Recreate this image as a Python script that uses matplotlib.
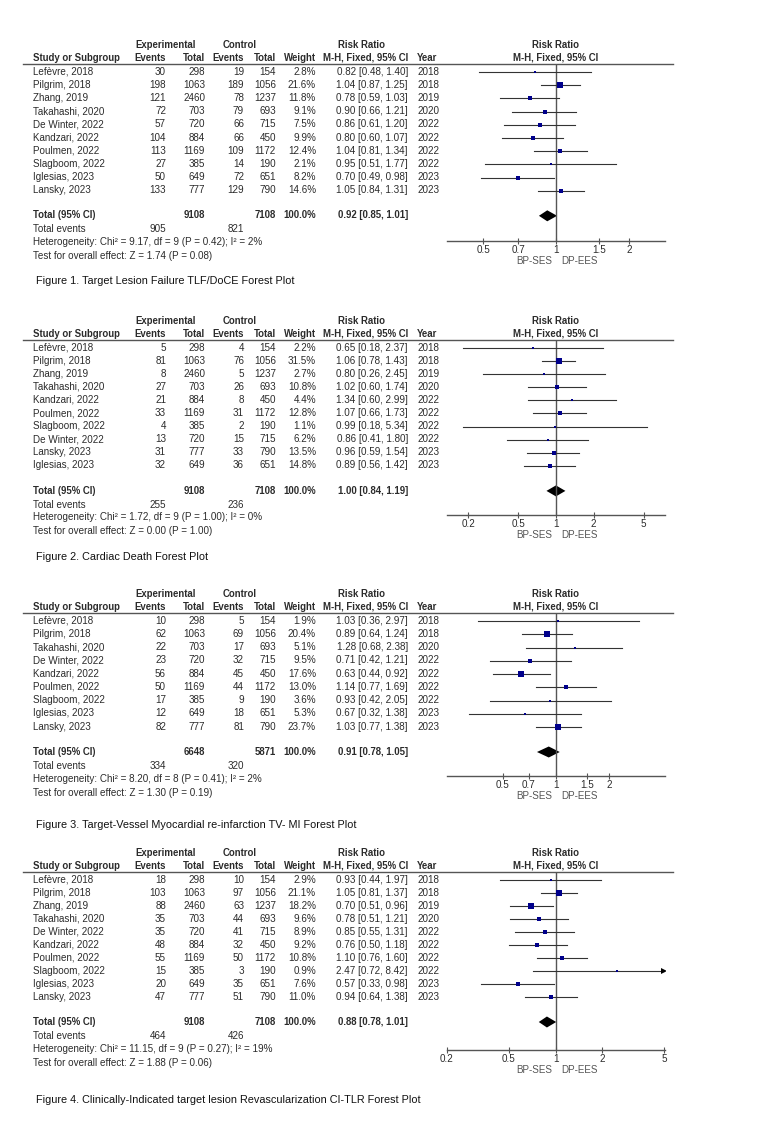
import matplotlib
matplotlib.use("Agg")
import matplotlib.pyplot as plt
import numpy as np

plt.rcParams['font.family'] = ['Liberation Sans', 'DejaVu Sans']

# ---- Figure 1: TLF/DoCE
studies1 = ["Lefèvre, 2018", "Pilgrim, 2018", "Zhang, 2019", "Takahashi, 2020", "De Winter, 2022",
            "Kandzari, 2022", "Poulmen, 2022", "Slagboom, 2022", "Iglesias, 2023", "Lansky, 2023"]
exp_ev1 = [30, 198, 121, 72, 57, 104, 113, 27, 50, 133]
exp_tot1 = [298, 1063, 2460, 703, 720, 884, 1169, 385, 649, 777]
ctl_ev1 = [19, 189, 78, 79, 66, 66, 109, 14, 72, 129]
ctl_tot1 = [154, 1056, 1237, 693, 715, 450, 1172, 190, 651, 790]
weight1 = [2.8, 21.6, 11.8, 9.1, 7.5, 9.9, 12.4, 2.1, 8.2, 14.6]
rr1 = [0.82, 1.04, 0.78, 0.90, 0.86, 0.80, 1.04, 0.95, 0.70, 1.05]
lo1 = [0.48, 0.87, 0.59, 0.66, 0.61, 0.60, 0.81, 0.51, 0.49, 0.84]
hi1 = [1.40, 1.25, 1.03, 1.21, 1.20, 1.07, 1.34, 1.77, 0.98, 1.31]
year1 = [2018, 2018, 2019, 2020, 2022, 2022, 2022, 2022, 2023, 2023]
total1 = [9108, 7108, 0.92, 0.85, 1.01, 905, 821]
het1 = "Heterogeneity: Chi² = 9.17, df = 9 (P = 0.42); I² = 2%"
test1 = "Test for overall effect: Z = 1.74 (P = 0.08)"
ticks1 = [0.5, 0.7, 1, 1.5, 2]
cap1 = "Figure 1. Target Lesion Failure TLF/DoCE Forest Plot"

# ---- Figure 2: Cardiac death
studies2 = ["Lefèvre, 2018", "Pilgrim, 2018", "Zhang, 2019", "Takahashi, 2020", "Kandzari, 2022",
            "Poulmen, 2022", "Slagboom, 2022", "De Winter, 2022", "Lansky, 2023", "Iglesias, 2023"]
exp_ev2 = [5, 81, 8, 27, 21, 33, 4, 13, 31, 32]
exp_tot2 = [298, 1063, 2460, 703, 884, 1169, 385, 720, 777, 649]
ctl_ev2 = [4, 76, 5, 26, 8, 31, 2, 15, 33, 36]
ctl_tot2 = [154, 1056, 1237, 693, 450, 1172, 190, 715, 790, 651]
weight2 = [2.2, 31.5, 2.7, 10.8, 4.4, 12.8, 1.1, 6.2, 13.5, 14.8]
rr2 = [0.65, 1.06, 0.80, 1.02, 1.34, 1.07, 0.99, 0.86, 0.96, 0.89]
lo2 = [0.18, 0.78, 0.26, 0.60, 0.60, 0.66, 0.18, 0.41, 0.59, 0.56]
hi2 = [2.37, 1.43, 2.45, 1.74, 2.99, 1.73, 5.34, 1.80, 1.54, 1.42]
year2 = [2018, 2018, 2019, 2020, 2022, 2022, 2022, 2022, 2023, 2023]
total2 = [9108, 7108, 1.00, 0.84, 1.19, 255, 236]
het2 = "Heterogeneity: Chi² = 1.72, df = 9 (P = 1.00); I² = 0%"
test2 = "Test for overall effect: Z = 0.00 (P = 1.00)"
ticks2 = [0.2, 0.5, 1, 2, 5]
cap2 = "Figure 2. Cardiac Death Forest Plot"

# ---- Figure 3: TV-MI
studies3 = ["Lefèvre, 2018", "Pilgrim, 2018", "Takahashi, 2020", "De Winter, 2022", "Kandzari, 2022",
            "Poulmen, 2022", "Slagboom, 2022", "Iglesias, 2023", "Lansky, 2023"]
exp_ev3 = [10, 62, 22, 23, 56, 50, 17, 12, 82]
exp_tot3 = [298, 1063, 703, 720, 884, 1169, 385, 649, 777]
ctl_ev3 = [5, 69, 17, 32, 45, 44, 9, 18, 81]
ctl_tot3 = [154, 1056, 693, 715, 450, 1172, 190, 651, 790]
weight3 = [1.9, 20.4, 5.1, 9.5, 17.6, 13.0, 3.6, 5.3, 23.7]
rr3 = [1.03, 0.89, 1.28, 0.71, 0.63, 1.14, 0.93, 0.67, 1.03]
lo3 = [0.36, 0.64, 0.68, 0.42, 0.44, 0.77, 0.42, 0.32, 0.77]
hi3 = [2.97, 1.24, 2.38, 1.21, 0.92, 1.69, 2.05, 1.38, 1.38]
year3 = [2018, 2018, 2020, 2022, 2022, 2022, 2022, 2023, 2023]
total3 = [6648, 5871, 0.91, 0.78, 1.05, 334, 320]
het3 = "Heterogeneity: Chi² = 8.20, df = 8 (P = 0.41); I² = 2%"
test3 = "Test for overall effect: Z = 1.30 (P = 0.19)"
ticks3 = [0.5, 0.7, 1, 1.5, 2]
cap3 = "Figure 3. Target-Vessel Myocardial re-infarction TV- MI Forest Plot"

# ---- Figure 4: CI-TLR
studies4 = ["Lefèvre, 2018", "Pilgrim, 2018", "Zhang, 2019", "Takahashi, 2020", "De Winter, 2022",
            "Kandzari, 2022", "Poulmen, 2022", "Slagboom, 2022", "Iglesias, 2023", "Lansky, 2023"]
exp_ev4 = [18, 103, 88, 35, 35, 48, 55, 15, 20, 47]
exp_tot4 = [298, 1063, 2460, 703, 720, 884, 1169, 385, 649, 777]
ctl_ev4 = [10, 97, 63, 44, 41, 32, 50, 3, 35, 51]
ctl_tot4 = [154, 1056, 1237, 693, 715, 450, 1172, 190, 651, 790]
weight4 = [2.9, 21.1, 18.2, 9.6, 8.9, 9.2, 10.8, 0.9, 7.6, 11.0]
rr4 = [0.93, 1.05, 0.70, 0.78, 0.85, 0.76, 1.10, 2.47, 0.57, 0.94]
lo4 = [0.44, 0.81, 0.51, 0.51, 0.55, 0.50, 0.76, 0.72, 0.33, 0.64]
hi4 = [1.97, 1.37, 0.96, 1.21, 1.31, 1.18, 1.60, 8.42, 0.98, 1.38]
year4 = [2018, 2018, 2019, 2020, 2022, 2022, 2022, 2022, 2023, 2023]
total4 = [9108, 7108, 0.88, 0.78, 1.01, 464, 426]
het4 = "Heterogeneity: Chi² = 11.15, df = 9 (P = 0.27); I² = 19%"
test4 = "Test for overall effect: Z = 1.88 (P = 0.06)"
ticks4 = [0.2, 0.5, 1, 2, 5]
cap4 = "Figure 4. Clinically-Indicated target lesion Revascularization CI-TLR Forest Plot"

# layout (pixels): header line y, row pitch, axis y, caption y, xlim of forest
panels = [
    dict(s=studies1, ee=exp_ev1, et=exp_tot1, ce=ctl_ev1, ct=ctl_tot1, w=weight1, rr=rr1, lo=lo1, hi=hi1,
         yr=year1, tot=total1, het=het1, test=test1, ticks=ticks1, cap=cap1,
         line=64, pitch=13.2, axis=241, cap_y=281, xlim=(0.355, 2.815)),
    dict(s=studies2, ee=exp_ev2, et=exp_tot2, ce=ctl_ev2, ct=ctl_tot2, w=weight2, rr=rr2, lo=lo2, hi=hi2,
         yr=year2, tot=total2, het=het2, test=test2, ticks=ticks2, cap=cap2,
         line=340, pitch=13.1, axis=515, cap_y=557, xlim=(0.135, 7.42)),
    dict(s=studies3, ee=exp_ev3, et=exp_tot3, ce=ctl_ev3, ct=ctl_tot3, w=weight3, rr=rr3, lo=lo3, hi=hi3,
         yr=year3, tot=total3, het=het3, test=test3, ticks=ticks3, cap=cap3,
         line=613, pitch=13.25, axis=776, cap_y=825, xlim=(0.2406, 4.16)),
    dict(s=studies4, ee=exp_ev4, et=exp_tot4, ce=ctl_ev4, ct=ctl_tot4, w=weight4, rr=rr4, lo=lo4, hi=hi4,
         yr=year4, tot=total4, het=het4, test=test4, ticks=ticks4, cap=cap4,
         line=872, pitch=13.0, axis=1050, cap_y=1100, xlim=(0.2, 5.07)),
]

W, H = 764, 1140
fig = plt.figure(figsize=(W / 100, H / 100), dpi=100)
bg = fig.add_axes([0, 0, 1, 1])
bg.set_xlim(0, W)
bg.set_ylim(H, 0)
bg.axis("off")

TXT = "#2b2b2b"
FS = 7.1
HFS = 6.9
# right edges of numeric columns
X_NAME, X_EE, X_ET, X_CE, X_CT, X_W, X_CI, X_YR = 33, 166, 205, 244, 276, 316, 408, 417
FX0, FX1 = 447, 665


def t(x, y, s, ha="left", bold=False, size=FS, color=TXT):
    # baseline placement so accented names line up with the others
    bg.text(x, y + 2.6, s, ha=ha, va="baseline", fontsize=size, color=color,
            fontweight="bold" if bold else "normal")


for p in panels:
    line = p["line"]
    n = len(p["s"])
    row_y = [line + 8 + p["pitch"] * i for i in range(n)]
    tot_y = row_y[-1] + 25

    # headers
    t(166, line - 19, "Experimental", ha="center", bold=True, size=HFS)
    t(240, line - 19, "Control", ha="center", bold=True, size=HFS)
    t(362, line - 19, "Risk Ratio", ha="center", bold=True, size=HFS)
    t(556, line - 19, "Risk Ratio", ha="center", bold=True, size=HFS)
    t(X_NAME, line - 6, "Study or Subgroup", bold=True, size=HFS)
    t(X_EE, line - 6, "Events", ha="right", bold=True, size=HFS)
    t(X_ET, line - 6, "Total", ha="right", bold=True, size=HFS)
    t(X_CE, line - 6, "Events", ha="right", bold=True, size=HFS)
    t(X_CT, line - 6, "Total", ha="right", bold=True, size=HFS)
    t(X_W, line - 6, "Weight", ha="right", bold=True, size=HFS)
    t(X_CI, line - 6, "M-H, Fixed, 95% CI", ha="right", bold=True, size=HFS)
    t(X_YR, line - 6, "Year", bold=True, size=HFS)
    t(556, line - 6, "M-H, Fixed, 95% CI", ha="center", bold=True, size=HFS)
    bg.plot([23, 673], [line, line], color="#555555", lw=1.0)

    for i in range(n):
        y = row_y[i]
        t(X_NAME, y, p["s"][i])
        t(X_EE, y, str(p["ee"][i]), ha="right")
        t(X_ET, y, str(p["et"][i]), ha="right")
        t(X_CE, y, str(p["ce"][i]), ha="right")
        t(X_CT, y, str(p["ct"][i]), ha="right")
        t(X_W, y, f"{p['w'][i]:.1f}%", ha="right")
        t(X_CI, y, f"{p['rr'][i]:.2f} [{p['lo'][i]:.2f}, {p['hi'][i]:.2f}]", ha="right")
        t(X_YR, y, str(p["yr"][i]))

    tot = p["tot"]
    t(X_NAME, tot_y, "Total (95% CI)", bold=True, size=HFS)
    t(X_ET, tot_y, str(tot[0]), ha="right", bold=True, size=HFS)
    t(X_CT, tot_y, str(tot[1]), ha="right", bold=True, size=HFS)
    t(X_W, tot_y, "100.0%", ha="right", bold=True, size=HFS)
    t(X_CI, tot_y, f"{tot[2]:.2f} [{tot[3]:.2f}, {tot[4]:.2f}]", ha="right", bold=True, size=HFS)
    t(X_NAME, tot_y + 14, "Total events")
    t(X_EE, tot_y + 14, str(tot[5]), ha="right")
    t(X_CE, tot_y + 14, str(tot[6]), ha="right")
    t(X_NAME, tot_y + 27, p["het"])
    t(X_NAME, tot_y + 41, p["test"])
    t(36, p["cap_y"], p["cap"], size=7.8, color="#111111")

    # favours labels under the axis
    t(534, p["axis"] + 20, "BP-SES", ha="center", color="#555555")
    t(580, p["axis"] + 20, "DP-EES", ha="center", color="#555555")

    # forest plot
    ax = fig.add_axes([FX0 / W, 1 - p["axis"] / H, (FX1 - FX0) / W, (p["axis"] - line) / H])
    ax.set_xscale("log")
    ax.set_xlim(*p["xlim"])
    ax.set_ylim(p["axis"], line)
    ax.patch.set_alpha(0)
    for sp in ["top", "left", "right"]:
        ax.spines[sp].set_visible(False)
    ax.spines["bottom"].set_color("#555555")
    ax.spines["bottom"].set_linewidth(1.0)
    ax.set_yticks([])
    ax.set_xticks(p["ticks"])
    ax.set_xticklabels([f"{v:g}" for v in p["ticks"]])
    ax.xaxis.set_minor_locator(matplotlib.ticker.NullLocator())
    ax.tick_params(axis="x", direction="inout", length=5, width=0.8, color="#555555",
                   labelsize=FS, labelcolor=TXT, pad=0.5)
    ax.axvline(1, color="#555555", lw=1.0)
    xmax = p["xlim"][1]
    for i in range(n):
        y = row_y[i]
        hi = min(p["hi"][i], xmax * 0.985)
        ax.plot([p["lo"][i], hi], [y, y], color="#333333", lw=0.8)
        if p["hi"][i] > xmax:
            ax.plot(hi, y, marker=">", color="black", ms=4.5, mew=0)
        side = max(2.6, 1.2 * np.sqrt(p["w"][i]))
        ax.plot(p["rr"][i], y, marker="s", color="#00008b", ms=side * 0.72, mew=0)
    rr, lo, hi = tot[2], tot[3], tot[4]
    ax.fill([lo, rr, hi, rr], [tot_y, tot_y - 5.5, tot_y, tot_y + 5.5], color="black", lw=0)

fig.savefig("out.png", dpi=100)
